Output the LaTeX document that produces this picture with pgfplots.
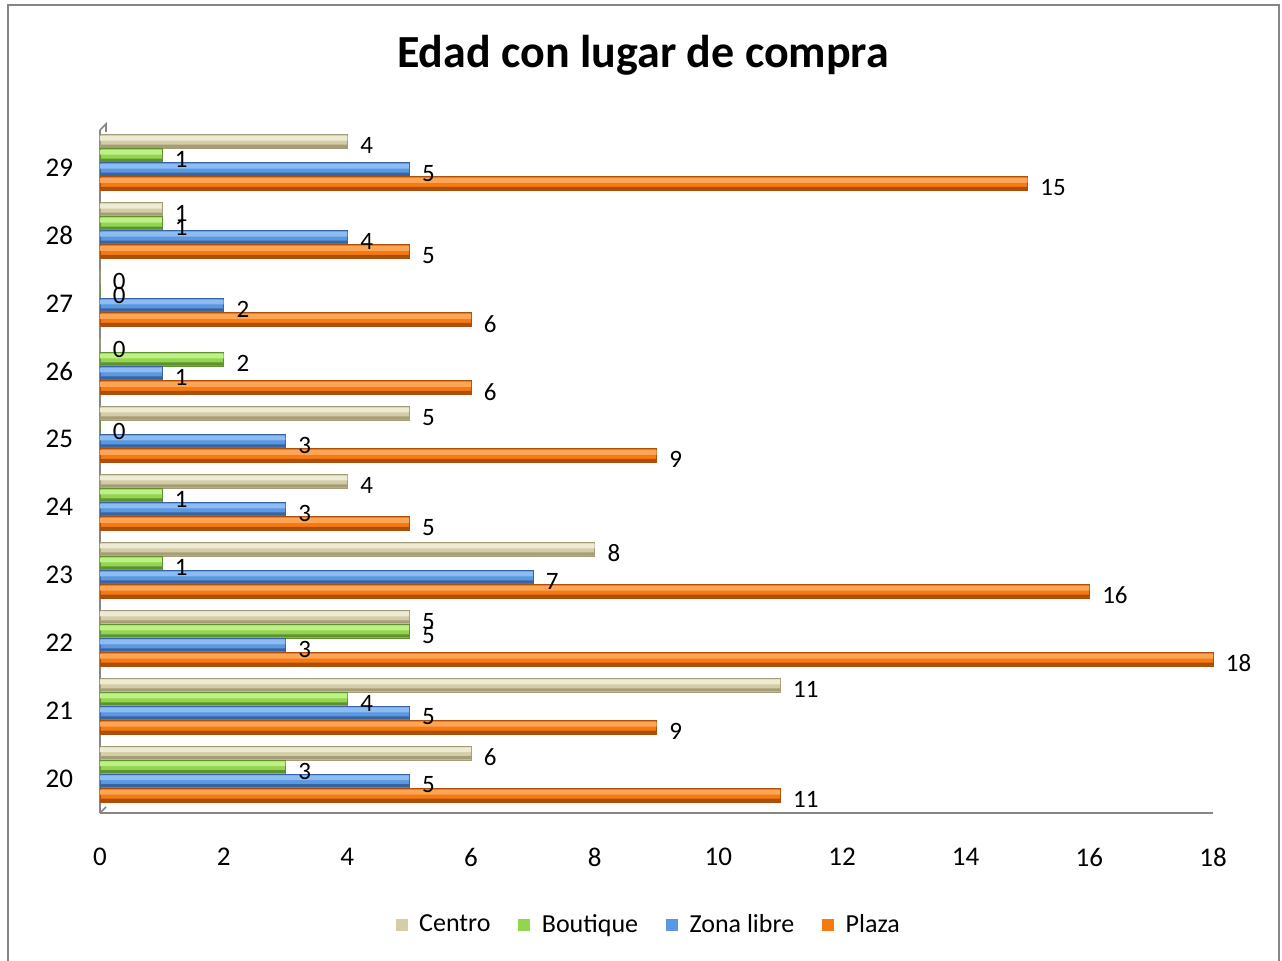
\documentclass[border=0pt]{standalone}
\usepackage{fontspec}
\setmainfont{Carlito}
\usepackage{pgfplots}
\usepackage{pgfplotstable}
\pgfplotsset{compat=1.18}
\definecolor{plazaM}{RGB}{246,122,16}
\definecolor{plazaL}{RGB}{252,165,85}
\definecolor{plazaD}{RGB}{175,78,10}
\definecolor{zonaM}{RGB}{90,152,224}
\definecolor{zonaL}{RGB}{140,188,242}
\definecolor{zonaD}{RGB}{55,100,165}
\definecolor{boutM}{RGB}{146,214,80}
\definecolor{boutL}{RGB}{190,240,135}
\definecolor{boutD}{RGB}{95,145,45}
\definecolor{centM}{RGB}{212,205,168}
\definecolor{centL}{RGB}{238,235,212}
\definecolor{centD}{RGB}{165,157,120}
\definecolor{frame}{RGB}{134,134,134}
\pgfplotstableread{
age centro boutique zona plaza
20 6 3 5 11
21 11 4 5 9
22 5 5 3 18
23 8 1 7 16
24 4 1 3 5
25 5 0 3 9
26 0 2 1 6
27 0 0 2 6
28 1 1 4 5
29 4 1 5 15
}\datatable
\begin{document}
\begin{tikzpicture}
\path[use as bounding box] (0,0) rectangle (641pt,-480.5pt);
\draw[frame, line width=1.3pt] (4pt,-482pt) -- (4pt,-2.5pt) -- (639.5pt,-2.5pt) -- (639.5pt,-482pt);
\node[font=\fontsize{23}{27}\selectfont\bfseries] at (321.5pt,-27.5pt) {Edad con lugar de compra};
\begin{axis}[
  at={(50pt,-406.5pt)}, anchor=origin,
  scale only axis, width=556.5pt, height=341.5pt,
  xmin=0, xmax=18, ymin=19.5, ymax=29.55,
  xbar, bar width=7pt,
  axis x line*=bottom, axis y line*=left,
  axis line style={frame, line width=1pt},
  xtick={0,2,...,18}, ytick={20,...,29},
  major tick length=0pt,
  tick label style={font=\fontsize{13.5}{16}\selectfont},
  /pgf/number format/assume math mode=true,
  xticklabel style={yshift=-14pt},
  yticklabel style={xshift=-10pt},
  nodes near coords style={font=\fontsize{12.5}{14}\selectfont, anchor=west, xshift=3pt, yshift=-2pt, text=black},
  legend style={at={(0.494,-0.164)}, anchor=center, draw=none, font=\fontsize{13}{15}\selectfont, legend columns=4, /tikz/every even column/.append style={column sep=12pt}},
  legend image code/.code={\fill[#1, draw=none] (0pt,-3pt) rectangle (6pt,3pt); \path (9.5pt,0pt);},
  legend cell align=left,
  clip=false,
]
\addlegendimage{fill=centM}
\addlegendentry{Centro}
\addlegendimage{fill=boutM}
\addlegendentry{Boutique}
\addlegendimage{fill=zonaM}
\addlegendentry{Zona libre}
\addlegendimage{fill=plazaM}
\addlegendentry{Plaza}
% Centro
\addplot[forget plot, bar shift=13pt, draw=centD, line width=0.3pt, fill=centM, nodes near coords] table[x=centro, y=age] {\datatable};
\addplot[forget plot, bar shift=14.6pt, bar width=2.4pt, draw=none, fill=centL] table[x=centro, y=age] {\datatable};
\addplot[forget plot, bar shift=10.6pt, bar width=1.6pt, draw=none, fill=centD] table[x=centro, y=age] {\datatable};
% Boutique
\addplot[forget plot, bar shift=6pt, draw=boutD, line width=0.3pt, fill=boutM, nodes near coords] table[x=boutique, y=age] {\datatable};
\addplot[forget plot, bar shift=7.6pt, bar width=2.4pt, draw=none, fill=boutL] table[x=boutique, y=age] {\datatable};
\addplot[forget plot, bar shift=3.6pt, bar width=1.6pt, draw=none, fill=boutD] table[x=boutique, y=age] {\datatable};
% Zona libre
\addplot[forget plot, bar shift=-1pt, draw=zonaD, line width=0.3pt, fill=zonaM, nodes near coords] table[x=zona, y=age] {\datatable};
\addplot[forget plot, bar shift=0.6pt, bar width=2.4pt, draw=none, fill=zonaL] table[x=zona, y=age] {\datatable};
\addplot[forget plot, bar shift=-3.4pt, bar width=1.6pt, draw=none, fill=zonaD] table[x=zona, y=age] {\datatable};
% Plaza
\addplot[forget plot, bar shift=-8.2pt, draw=plazaD, line width=0.3pt, fill=plazaM, nodes near coords] table[x=plaza, y=age] {\datatable};
\addplot[forget plot, bar shift=-6.6pt, bar width=2.4pt, draw=none, fill=plazaL] table[x=plaza, y=age] {\datatable};
\addplot[forget plot, bar shift=-10.6pt, bar width=1.6pt, draw=none, fill=plazaD] table[x=plaza, y=age] {\datatable};
% 3D wall outline
\draw[frame, line width=0.8pt] (axis cs:0,29.55) -- ++(3pt,3pt) -- ++(0pt,-4pt);
\draw[frame, line width=0.8pt] (axis cs:0,19.5) -- ++(3pt,3pt);
\end{axis}
\end{tikzpicture}
\end{document}
